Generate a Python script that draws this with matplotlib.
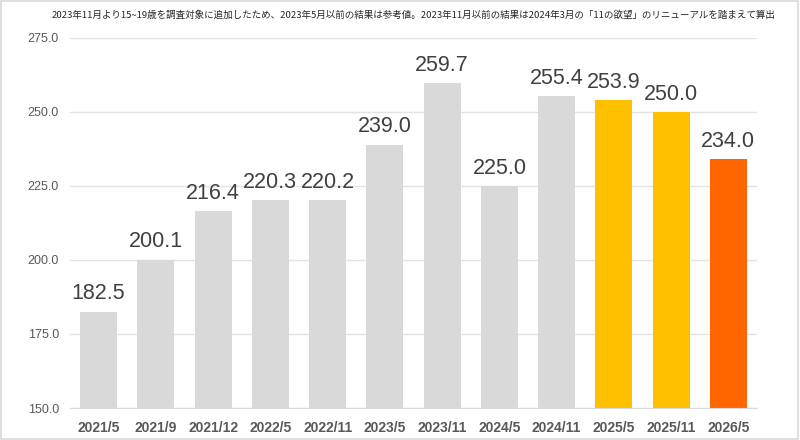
import matplotlib
matplotlib.use("Agg")
import matplotlib.pyplot as plt
from matplotlib.patches import Rectangle

plt.rcParams["font.family"] = ["Noto Sans CJK JP", "DejaVu Sans"]

categories = ["2021/5", "2021/9", "2021/12", "2022/5", "2022/11", "2023/5",
              "2023/11", "2024/5", "2024/11", "2025/5", "2025/11", "2026/5"]
values = [182.5, 200.1, 216.4, 220.3, 220.2, 239.0, 259.7, 225.0, 255.4,
          253.9, 250.0, 234.0]
bar_colors = ["#D9D9D9"] * 9 + ["#FFC000", "#FFC000", "#FF6600"]
yticks = [150, 175, 200, 225, 250, 275]
note = ("2023年11月より15~19歳を調査対象に追加したため、2023年5月以前の結果は参考値。"
        "2023年11月以前の結果は2024年3月の「11の欲望」のリニューアルを踏まえて算出")

fig = plt.figure(figsize=(8, 4.4), dpi=100)
ax = fig.add_axes([70 / 800, 1 - 408 / 440, 687 / 800, 370 / 440])

x = range(len(categories))
ax.bar(x, [v - 150 for v in values], bottom=150, width=0.65,
       color=bar_colors, zorder=2)
for i, v in enumerate(values):
    ax.text(i, v + 2.5, f"{v:.1f}", ha="center", va="bottom",
            fontsize=15.5, color="#404040", family=["Liberation Sans", "DejaVu Sans"])

ax.set_xlim(-0.5, len(categories) - 0.5)
ax.set_ylim(150, 275)
ax.set_yticks(yticks)
ax.set_yticklabels([f"{t:.1f}" for t in yticks], fontsize=9, color="#595959",
                   family=["Liberation Sans", "DejaVu Sans"])
ax.set_xticks(list(x))
ax.set_xticklabels(categories, fontsize=10, fontweight="bold", color="#595959",
                   family=["Liberation Sans Narrow", "Liberation Sans", "DejaVu Sans"])
ax.tick_params(axis="both", length=0)
ax.tick_params(axis="x", pad=9)
ax.tick_params(axis="y", pad=8)
ax.grid(axis="y", color="#E3E3E3", linewidth=1, zorder=0)
for side in ["top", "right", "left"]:
    ax.spines[side].set_visible(False)
ax.spines["bottom"].set_color("#D9D9D9")

fig.text(52 / 800, 1 - 15 / 440, note, fontsize=6.85, color="#262626",
         ha="left", va="center")

fig.patches.append(Rectangle((0.001, 0.002), 0.997, 0.995, transform=fig.transFigure,
                             fill=False, edgecolor="#D9D9D9", linewidth=1.2))

fig.savefig("out.png", dpi=100)
